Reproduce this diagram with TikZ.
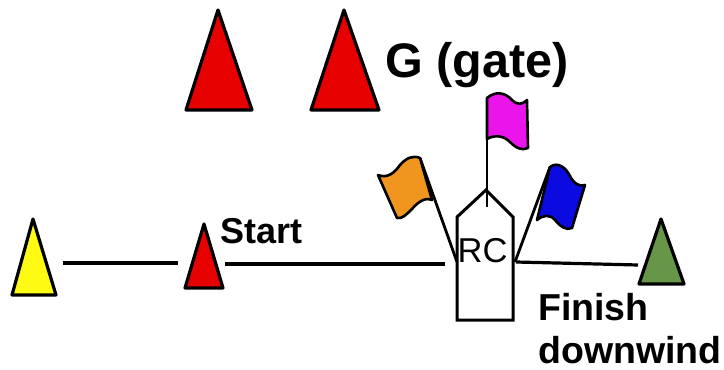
\documentclass[tikz,border=0pt]{standalone}
\usepackage{fontspec}
\setmainfont{Liberation Sans}
\definecolor{conered}{RGB}{230,0,0}
\definecolor{coneyellow}{RGB}{255,250,20}
\definecolor{conegreen}{RGB}{104,150,72}
\definecolor{flagorange}{RGB}{240,150,30}
\definecolor{flagmagenta}{RGB}{235,20,235}
\definecolor{flagblue}{RGB}{10,10,225}
\begin{document}
\begin{tikzpicture}[x=1pt,y=-1pt,
  cone/.style={draw=black,line width=3.2pt,line join=round},
  rope/.style={draw=black,line width=3.2pt},
  boatline/.style={draw=black,line width=3pt,line join=miter},
  pole/.style={draw=black,line width=2.8pt},
  flag/.style={draw=black,line width=2.6pt,line join=round},
  lbl/.style={inner sep=0pt,anchor=base west,font=\bfseries}]
\useasboundingbox (0,0) rectangle (724,370);
% gate cones
\draw[cone,fill=conered] (218,10) -- (252,110) -- (186,110) -- cycle;
\draw[cone,fill=conered] (344,10) -- (379,110) -- (311,110) -- cycle;
\node[lbl,font=\bfseries\fontsize{48.5}{52}\selectfont] (gate) at (385,77) {G (gate)};
% start line cones
\draw[cone,fill=coneyellow] (33,219) -- (56,295) -- (12,295) -- cycle;
\draw[cone,fill=conered] (204,224) -- (223,288) -- (185,288) -- cycle;
\draw[cone,fill=conegreen] (661,219) -- (684,284) -- (639,284) -- cycle;
\coordinate (yR) at (63,263);
\coordinate (sL) at (178,263);
\coordinate (sR) at (225,264);
\coordinate (bL) at (445,264);
\coordinate (bR) at (516,262);
\coordinate (gL) at (638,265);
\draw[rope] (yR) -- (sL);
\draw[rope] (sR) -- (bL);
\draw[rope] (bR) -- (gL);
\node[lbl,font=\bfseries\fontsize{36}{40}\selectfont] (start) at (220,243) {Start};
% boat
\draw[boatline] (457,320) -- (457,217) -- (486,190) -- (513,217) -- (513,320) -- cycle;
\node[inner sep=0pt,anchor=base west,font=\fontsize{34.5}{38}\selectfont] (rc) at (457.5,262) {RC};
% poles
\coordinate (opB) at (457,262);
\coordinate (opT) at (420,158);
\coordinate (mpB) at (487,207);
\coordinate (mpT) at (487,98);
\coordinate (bpB) at (515,262);
\coordinate (bpT) at (550,167);
\draw[pole] (opB) -- (opT);
\draw[pole] (mpB) -- (mpT);
\draw[pole] (bpB) -- (bpT);
% flags
\draw[flag,fill=flagorange] (378,175) .. controls (388,179) and (395,172) .. (400,165)
  .. controls (406,158) and (413,155) .. (420,158) -- (432,200)
  .. controls (425,197) and (418,202) .. (412,209)
  .. controls (406,215) and (402,219) .. (397,218) -- cycle;
\draw[flag,fill=flagmagenta] (487,98) .. controls (495,91) and (505,92) .. (512,100)
  .. controls (517,105) and (522,105) .. (527,100) -- (528,148)
  .. controls (522,151) and (516,148) .. (510,142)
  .. controls (503,135) and (494,135) .. (487,139) -- cycle;
\draw[flag,fill=flagblue] (550,167) .. controls (558,161) and (566,168) .. (570,176)
  .. controls (574,184) and (580,187) .. (585,185) -- (572,228)
  .. controls (566,231) and (560,226) .. (555,220)
  .. controls (550,214) and (543,215) .. (537,220) -- cycle;
% finish
\node[lbl,font=\bfseries\fontsize{37.5}{41}\selectfont] (finish) at (538,320) {Finish};
\node[lbl,font=\bfseries\fontsize{37.5}{41}\selectfont] (down) at (538,363) {downwind};
\end{tikzpicture}
\end{document}
